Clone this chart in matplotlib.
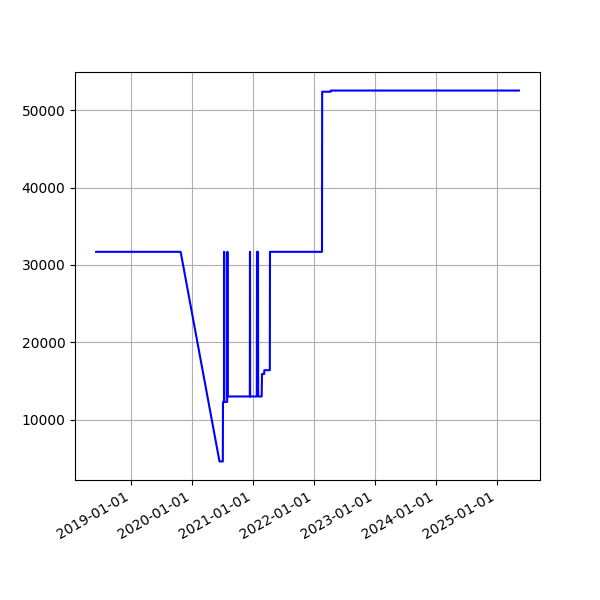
import matplotlib
matplotlib.use("Agg")
import matplotlib.pyplot as plt
import matplotlib.dates as mdates
import pandas as pd

# price history
dates = ["2018-06-04", "2019-10-24", "2020-06-13", "2020-07-03", "2020-07-04",
         "2020-07-10", "2020-07-11", "2020-07-12", "2020-07-29", "2020-07-30",
         "2020-07-31", "2020-08-01", "2020-12-12", "2020-12-13", "2020-12-14",
         "2021-01-23", "2021-01-24", "2021-01-30", "2021-01-31", "2021-02-21",
         "2021-02-23", "2021-03-08", "2021-03-09", "2021-04-11", "2021-04-12",
         "2022-02-18", "2022-02-19", "2022-04-11", "2022-04-12", "2025-05-14"]
values = [31700, 31700, 4600, 4600, 12300,
          12300, 31700, 12300, 12300, 31700,
          31700, 13000, 13000, 31700, 13000,
          13000, 31700, 31700, 13000, 13000,
          15900, 15900, 16400, 16400, 31700,
          31700, 52400, 52400, 52550, 52550]

x = pd.to_datetime(dates)

fig, ax = plt.subplots(figsize=(6, 6), dpi=100)
ax.plot(x, values, color="blue", linewidth=1.5)
ax.grid(True)
ax.xaxis.set_major_locator(mdates.YearLocator())
ax.xaxis.set_major_formatter(mdates.DateFormatter("%Y-%m-%d"))
fig.autofmt_xdate()
fig.savefig("out.png")
